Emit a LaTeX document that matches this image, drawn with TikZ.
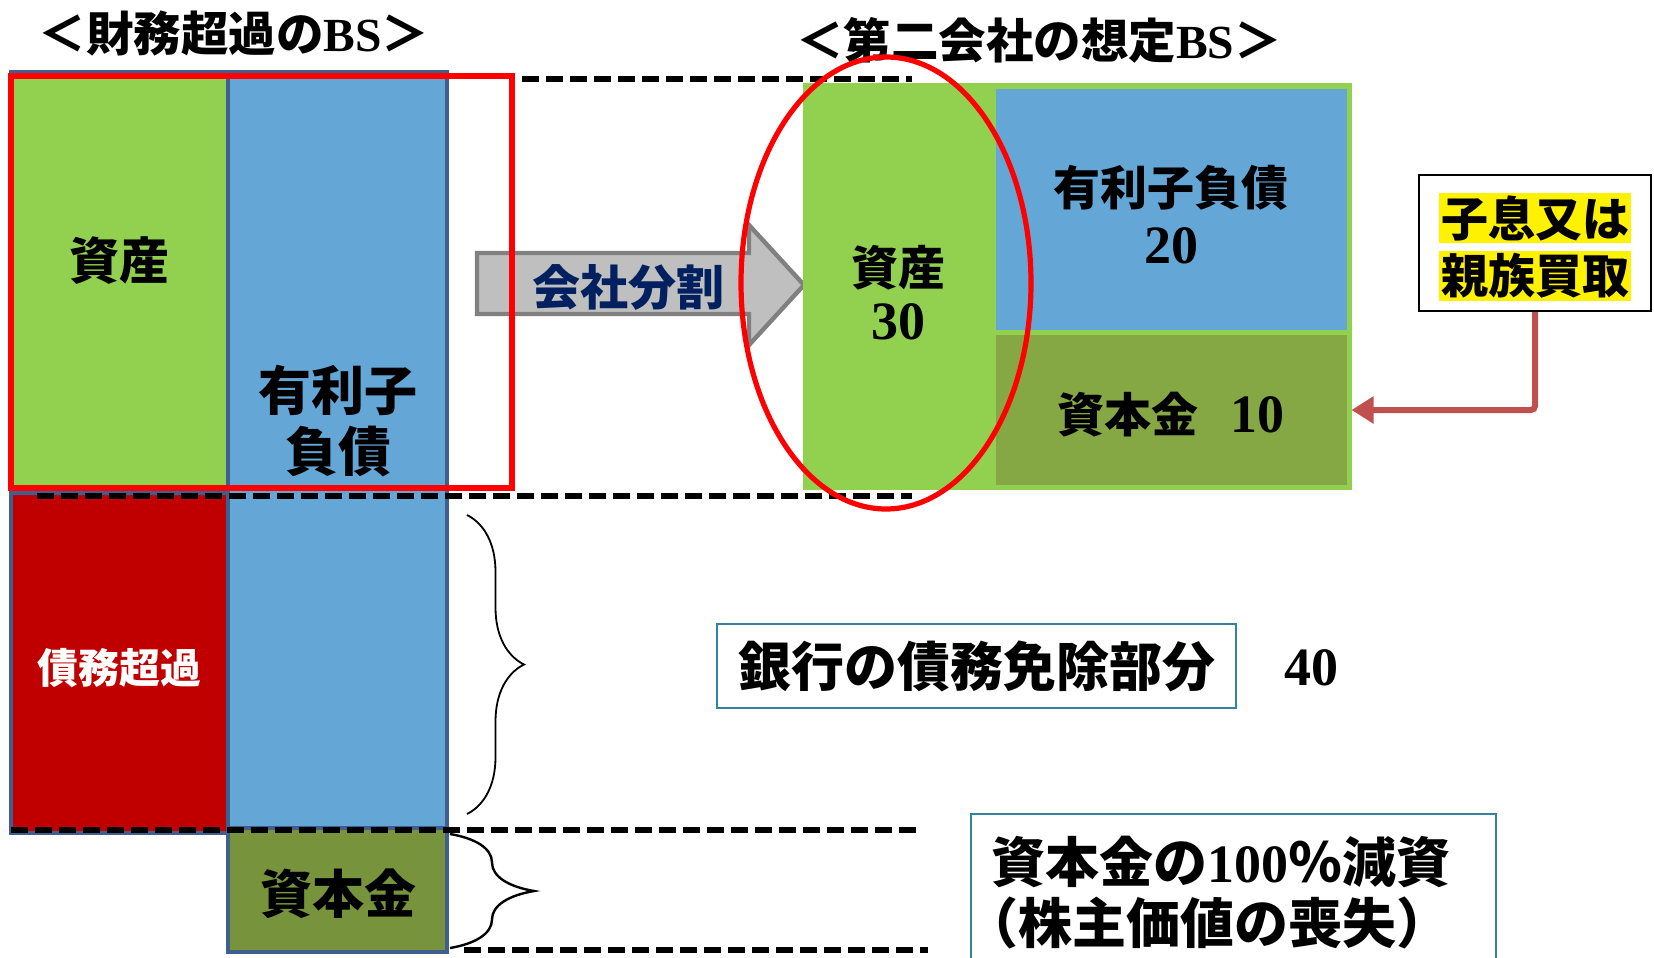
\documentclass[tikz,border=0pt]{standalone}
\usepackage{fontspec}
\setmainfont{Noto Sans CJK JP}
\newfontfamily\lat{Liberation Serif}
\usetikzlibrary{fit,arrows.meta,decorations.pathreplacing,shapes.geometric}
\definecolor{bsgreen}{RGB}{146,208,80}
\definecolor{bsblue}{RGB}{100,167,214}
\definecolor{bsred}{RGB}{192,0,0}
\definecolor{oliveA}{RGB}{119,147,60}
\definecolor{oliveB}{RGB}{134,168,68}
\definecolor{edgeblue}{RGB}{63,95,143}
\definecolor{navyt}{RGB}{0,32,96}
\definecolor{tealb}{RGB}{49,132,155}
\definecolor{brick}{RGB}{192,80,77}
\definecolor{arrgray}{RGB}{191,191,191}
\definecolor{arredge}{RGB}{128,128,128}
\newcommand\myfs[2]{\fontsize{#1}{#2}\selectfont}
\begin{document}
\begin{tikzpicture}[x=0.5pt,y=-0.5pt,
  cell/.style={inner sep=0pt, draw=edgeblue, line width=2.2pt},
  plain/.style={inner sep=0pt},
  lbl/.style={font=\bfseries, align=center, inner sep=0pt},
  dline/.style={line width=3pt, dash pattern=on 8.5pt off 3.5pt},
  note/.style={draw=tealb, line width=1.1pt, inner sep=0pt},
  brc/.style={decorate, line width=0.9pt}]
\useasboundingbox (0,0) rectangle (1654,958);

% titles
\node[lbl, font=\bfseries\myfs{23.75}{28}] (t1) at (234,33) {＜財務超過の{\lat BS}＞};
\node[lbl, font=\bfseries\myfs{23.75}{28}] (t2) at (1039,40) {＜第二会社の想定{\lat BS}＞};

% left balance sheet
\node[cell, fill=bsblue, fit={(228,72)(447,828)}] (lblue) {};
\node[cell, fill=bsgreen, fit={(11,72)(228,493)}] (lgreen) {};
\node[cell, fill=bsred, fit={(11,493)(228,833)}] (lred) {};
\node[cell, fill=oliveA, fit={(228,828)(447,952)}] (lcap) {};
\node[lbl, font=\bfseries\myfs{25}{30}] (tasset) at (119,261) {資産};
\node[lbl, font=\bfseries\myfs{26.5}{30.5}] (tdebt) at (338,421) {有利子\\負債};
\node[lbl, text=white, font=\bfseries\myfs{20.5}{24}] (tover) at (119,668) {債務超過};
\node[lbl, font=\bfseries\myfs{26}{30}] (tcap) at (338,894) {資本金};

% split arrow
\draw[fill=arrgray, draw=arredge, line width=2.2pt]
  (477,253) -- (749,253) -- (749,225) -- (804,285) -- (749,345) -- (749,314) -- (477,314) -- cycle;
\node[lbl, text=navyt, font=\bfseries\myfs{24}{28}] (split) at (628,287) {会社分割};

% right balance sheet
\node[plain, fill=bsgreen, draw=bsgreen, line width=1.5pt, fit={(804,84)(1350,488)}] (rbs) {};
\node[plain, fill=bsblue, fit={(996,89)(1347,330)}] (rdebt) {};
\node[plain, fill=oliveB, fit={(996,335)(1347,485)}] (rcap) {};
\node[lbl, font=\bfseries\myfs{23.5}{27}] (trasset) at (898,293) {資産\\{\lat\myfs{27}{27}30}};
\node[lbl, font=\bfseries\myfs{23.5}{29}] (trdebt) at (1171,215) {有利子負債\\{\lat\myfs{27}{29}20}};
\node[lbl, font=\bfseries\myfs{23.5}{28}] (trcap) at (1171,415) {資本金\hspace{0.7em}{\lat\myfs{27}{28}10}};

% dashed guides
\draw[dline] (522,79) -- (912,79);
\draw[dline] (37,496) -- (912,496);
\draw[dline] (11,830) -- (918,830);
\draw[dline] (464,950) -- (928,950);

% braces
\draw[brc, decoration={brace, amplitude=28.5pt}] (467,515) -- (467,814);
\draw[brc, line width=1.2pt, decoration={brace, amplitude=42pt}] (450,834) -- (450,948);

% highlights
\node[plain, draw=red, line width=2.8pt, fit={(11,76)(512,488)}] (sel) {};
\node[ellipse, draw=red, line width=2.6pt, inner sep=0pt, minimum width=145pt, minimum height=226pt] (oval) at (886,283) {};

% purchase box
\node[plain, draw=black, line width=1.2pt, fit={(1419,175)(1651,311)}] (kbox) {};
\node[fill=yellow, inner sep=1pt, font=\bfseries\myfs{23.5}{28}] (k1) at (1535,218) {子息又は};
\node[fill=yellow, inner sep=1pt, font=\bfseries\myfs{23.5}{28}] (k2) at (1535,276) {親族買取};
\draw[brick, line width=3pt, rounded corners=2pt, -{Triangle[length=11pt,width=13pt]}]
  (kbox.south) |- (rbs.east |- rcap.center);

% notes
\node[note, minimum width=259.5pt, minimum height=42pt, font=\bfseries\myfs{26.5}{30}] (bank) at (976.5,666) {銀行の債務免除部分};
\node[lbl, font=\lat\bfseries\myfs{27}{30}] (forty) at (1311,668) {40};
\node[note, fit={(971,814)(1496,975)}] (redc) {};
\node[anchor=west, align=left, inner sep=0pt, font=\bfseries\myfs{27}{30.5}] (redctext) at (991,893) {資本金の{\lat 100}％減資\\\hspace{-0.5em}（株主価値の喪失）};
\end{tikzpicture}
\end{document}
